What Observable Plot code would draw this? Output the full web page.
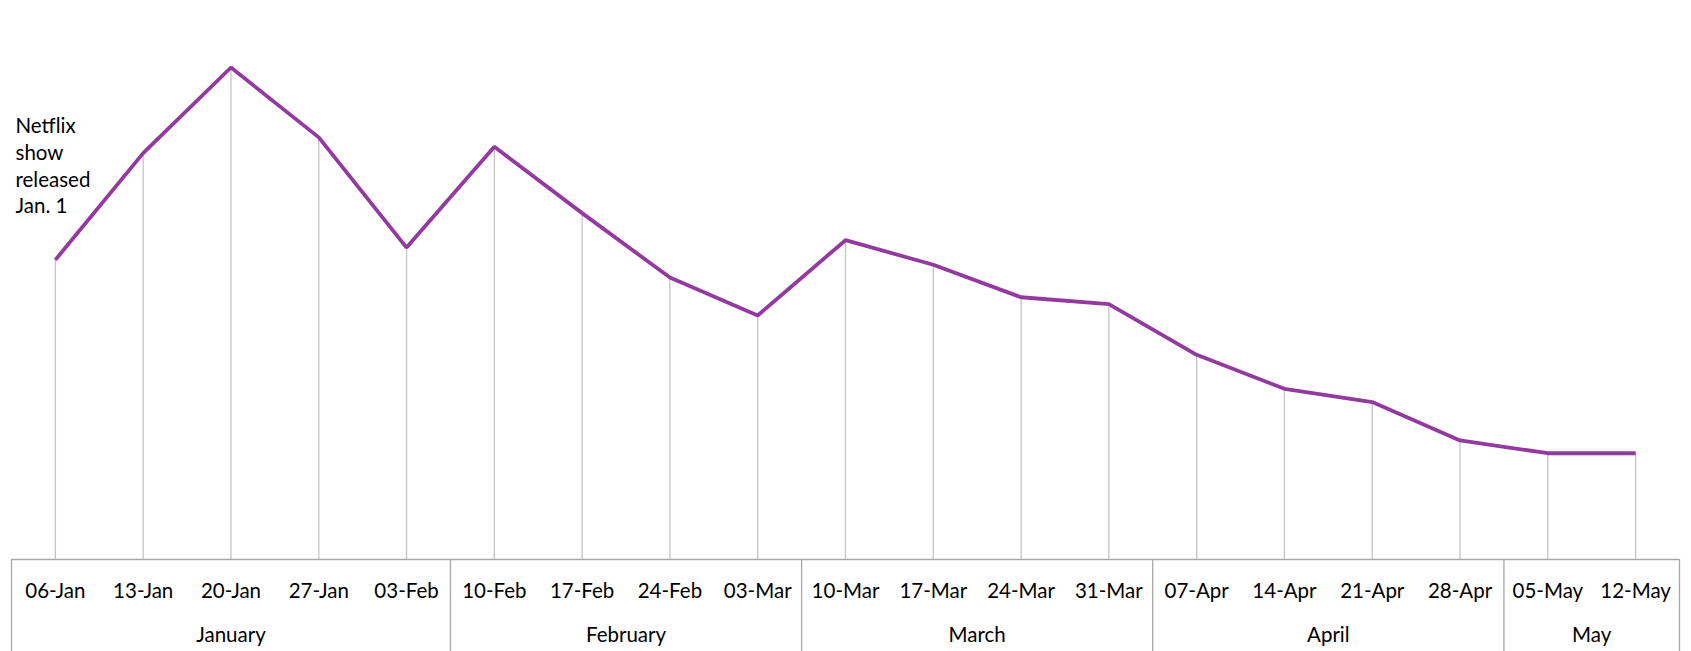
<!DOCTYPE html>
<html>
<head>
<meta charset="utf-8">
<script src="https://cdn.jsdelivr.net/npm/d3@7"></script>
<script src="https://cdn.jsdelivr.net/npm/@observablehq/plot@0.6"></script>
<style>
  html, body { margin: 0; padding: 0; background: #fff; }
  #chart svg { display: block; }
</style>
</head>
<body>
<div id="chart"></div>
<script>
// Weekly categories (tick labels)
const weeks = ["06-Jan","13-Jan","20-Jan","27-Jan","03-Feb","10-Feb","17-Feb","24-Feb","03-Mar",
  "10-Mar","17-Mar","24-Mar","31-Mar","07-Apr","14-Apr","21-Apr","28-Apr","05-May","12-May"];
// Series values (relative interest, peak = 100)
const values = [60.9, 82.6, 100, 85.8, 63.4, 83.9, 70.4, 57.3, 49.6,
  64.9, 59.9, 53.3, 51.9, 41.6, 34.7, 32.0, 24.2, 21.6, 21.6];
// Month groups and the number of weeks in each
const months = ["January","February","March","April","May"];
const monthWeeks = [5, 4, 4, 4, 2];
const annotation = "Netflix\nshow\nreleased\nJan. 1";

const W = 1691, H = 651;
const ml = 11, mr = 12, mt = 67, mb = 92;
const bw = (W - ml - mr) / weeks.length;
const font = "Lato, 'Liberation Sans', Arial, sans-serif";
const fs = 20.5;

const data = weeks.map((w, i) => ({week: w, value: values[i]}));

// month boundaries & label anchors
const boundaries = [];
const monthLabels = [];
let start = 0;
months.forEach((m, i) => {
  const n = monthWeeks[i];
  boundaries.push({week: weeks[start], side: -1});
  const mid = start + Math.floor((n - 1) / 2);
  monthLabels.push({week: weeks[mid], label: m, even: n % 2 === 0});
  start += n;
});
boundaries.push({week: weeks[weeks.length - 1], side: 1});

const chart = Plot.plot({
  width: W,
  height: H,
  marginLeft: ml,
  marginRight: mr,
  marginTop: mt,
  marginBottom: mb,
  style: {fontFamily: font, fontSize: fs + "px", color: "#000", background: "#fff"},
  x: {type: "band", domain: weeks, padding: 0, round: false, axis: null},
  y: {domain: [0, 100], axis: null},
  marks: [
    // drop lines
    Plot.ruleX(data, {x: "week", y1: 0, y2: "value", stroke: "#c4c4c4", strokeWidth: 1.3}),
    // axis top line
    Plot.ruleY([0], {stroke: "#a6a6a6", strokeWidth: 1.5}),
    // month separators (left side of first week, right side of last)
    Plot.ruleX(boundaries.filter(d => d.side < 0), {x: "week", y1: 0, y2: -25, dx: -bw / 2, stroke: "#a6a6a6", strokeWidth: 1.3}),
    Plot.ruleX(boundaries.filter(d => d.side > 0), {x: "week", y1: 0, y2: -25, dx: bw / 2, stroke: "#a6a6a6", strokeWidth: 1.3}),
    // week labels
    Plot.text(data, {x: "week", y: 0, text: "week", dy: 32, fill: "#000", fontSize: fs}),
    // month labels
    Plot.text(monthLabels.filter(d => !d.even), {x: "week", y: 0, text: "label", dy: 76, fill: "#000", fontSize: fs}),
    Plot.text(monthLabels.filter(d => d.even), {x: "week", y: 0, text: "label", dy: 76, dx: bw / 2, fill: "#000", fontSize: fs}),
    // the series line
    Plot.line(data, {x: "week", y: "value", stroke: "#93399f", strokeWidth: 3.8, strokeLinejoin: "miter", strokeLinecap: "butt"}),
    // annotation
    Plot.text([annotation], {frameAnchor: "top-left", text: d => d, textAnchor: "start", lineAnchor: "top",
      lineHeight: 1.3, dx: 4, dy: 47, fill: "#000", fontSize: fs})
  ]
});
document.getElementById("chart").appendChild(chart);
</script>
</body>
</html>
